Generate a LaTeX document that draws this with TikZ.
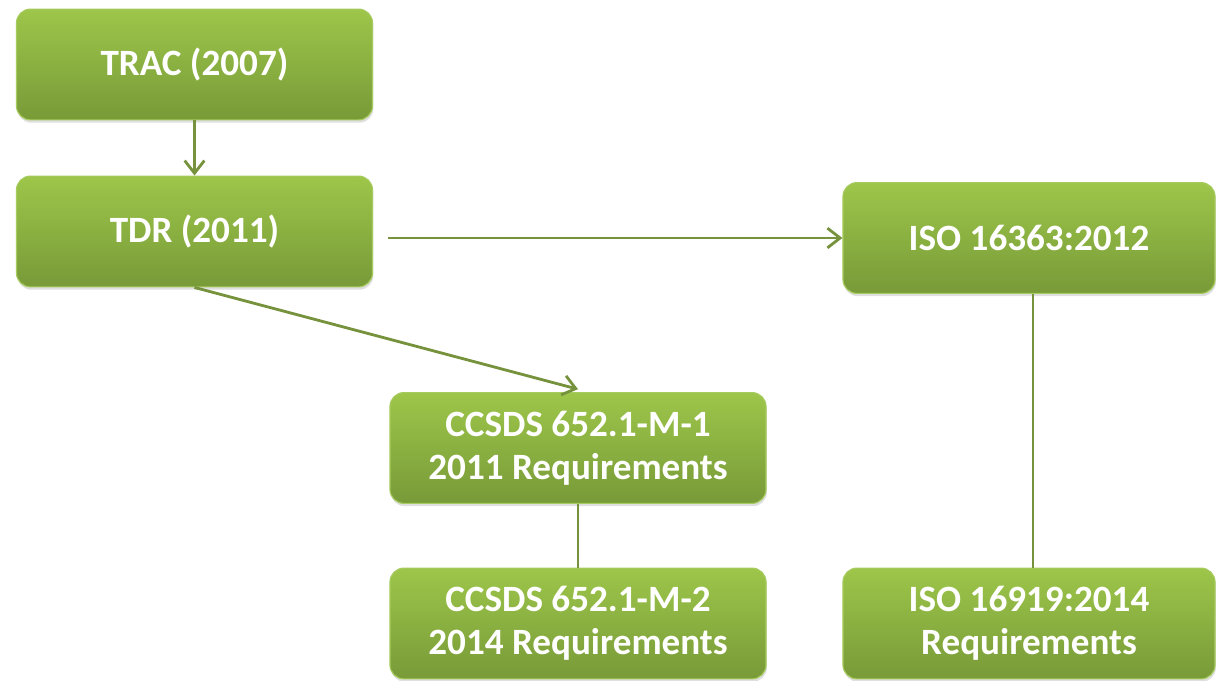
\documentclass[tikz,border=0pt]{standalone}
\usepackage{fontspec}
\setmainfont{Carlito}
\usepackage{tikz}
\usetikzlibrary{arrows.meta}
\usetikzlibrary{calc}
\usetikzlibrary{shadows}

\definecolor{boxTop}{HTML}{9DC64A}
\definecolor{boxBottom}{HTML}{789A38}
\definecolor{boxRim}{HTML}{A6CB5E}
\definecolor{linkGreen}{HTML}{76923C}

\tikzset{
    stdbox/.style={draw=boxRim, line width=0.8pt, rounded corners=0.35cm,
        top color=boxTop, bottom color=boxBottom, text=white,
        font=\fontsize{26.4}{30.5}\selectfont\bfseries, align=center,
        inner sep=0pt, minimum width=8.9cm, minimum height=2.77cm,
        drop shadow={opacity=0.25, shadow xshift=0.6pt, shadow yshift=-2pt}},
    link/.style={draw=linkGreen, line width=2pt},
    arr/.style={link, -{Straight Barb[length=9pt, width=14pt, line width=2pt]}}
}

\begin{document}
\begin{tikzpicture}[x=0.025cm, y=-0.025cm]
        \useasboundingbox (0, 0) rectangle (1217, 681);
        \node[stdbox] (trac) at (194.5, 64.5) {TRAC (2007)};
        \node[stdbox] (tdr) at (194.5, 231.5) {TDR (2011)};
        \node[stdbox, minimum width=9.3cm] (iso1) at (1029, 238) {ISO 16363:2012};
        \node[stdbox, minimum width=9.4cm] (ccsds1) at (578, 448) {CCSDS 652.1-M-1\\2011 Requirements};
        % bottom row, cut by the page edge
        \node[stdbox, minimum width=9.4cm] (ccsds2) at (578, 623.5) {CCSDS 652.1-M-2\\2014 Requirements};
        \node[stdbox, minimum width=9.3cm] (iso2) at (1029, 623.5) {ISO 16919:2014\\Requirements};


        \draw[arr] (trac) -- (tdr);
        \draw[arr] ($(tdr.east |- iso1.west)+(15, 0)$) -- (iso1.west);
        \draw[arr] (tdr.south) -- ([yshift=2pt]ccsds1.north);
        \draw[link] (ccsds1) -- (ccsds2);
        \draw[link] ([xshift=0.1cm]iso1.south) -- ([xshift=0.1cm]iso2.north);
    \end{tikzpicture}
\end{document}
